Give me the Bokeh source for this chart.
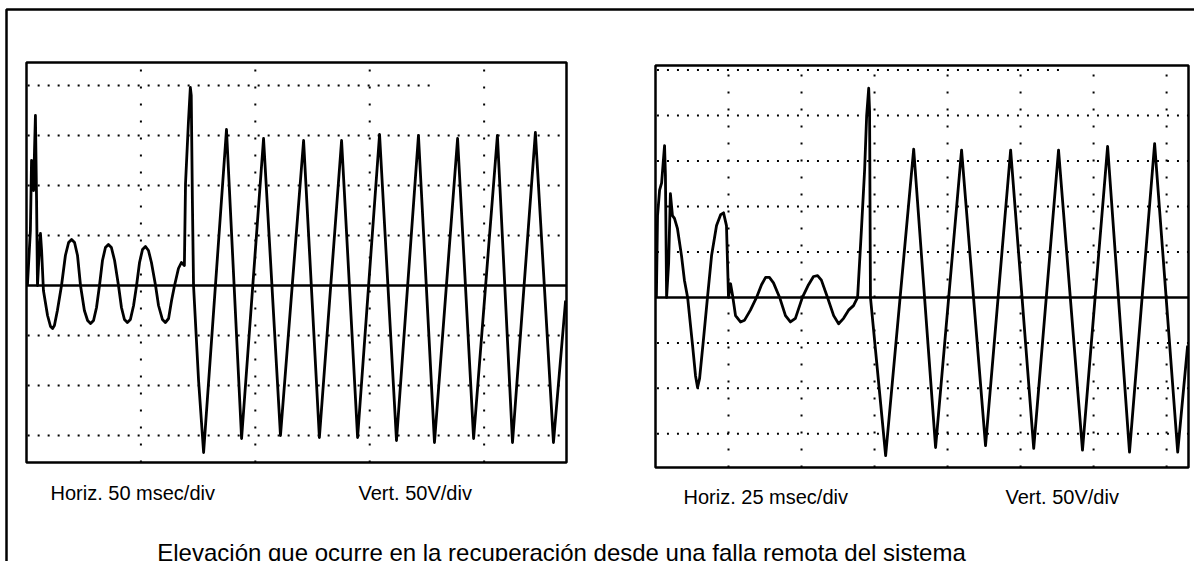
from bokeh.plotting import figure
from bokeh.models import Range1d, Label
from bokeh.embed import file_html
from bokeh.resources import INLINE

# ---------------- data ----------------
# Left oscillogram: Horiz. 50 msec/div, Vert. 50 V/div  (time in ms, voltage in V)
left_t = [0.4, 1.7, 2.2, 3.1, 3.5, 3.9, 4.4, 4.8, 5.7, 6.1, 6.6, 7.4, 9.2, 10.5, 11.4, 12.2,
          13.5, 15.3, 17.0, 18.4, 19.7, 21.0, 22.3, 23.6, 25.3, 26.7, 28.0, 29.3, 30.6, 31.9,
          33.2, 34.5, 35.8, 37.1, 38.5, 40.2, 41.5, 42.8, 44.1, 45.4, 46.8, 48.1, 49.4, 50.7,
          52.0, 53.3, 54.6, 56.4, 57.7, 59.4, 60.7, 62.1, 63.4, 64.7, 66.4, 67.7, 69.0, 69.5,
          70.8, 71.6, 72.0, 72.5, 73.0, 75.2, 77.4,
          87.4, 94.0, 103.6, 111.0, 121.1, 128.0, 137.7, 144.7, 154.3, 161.7, 171.3, 178.3,
          188.4, 195.4, 205.8, 212.4, 222.4, 230.3, 235.6]
left_v = [0, 55, 125, 95, 135, 170, 85, 0, 40, 52, 35, -5, -30, -41, -43, -40,
          -25, 0, 30, 43, 46, 43, 30, 0, -25, -35, -38, -35, -22, 0,
          25, 38, 41, 38, 25, 0, -22, -34, -37, -34, -20, 0, 23, 36,
          39, 35, 23, 0, -20, -34, -37, -33, -15, 0, 17, 23, 20, 102,
          165, 198, 190, 85, 0, -95, -167,
          156, -153, 147, -150, 145, -152, 145, -152, 151, -155, 150, -157,
          147, -153, 150, -157, 153, -157, -15]

# Right oscillogram: Horiz. 25 msec/div, Vert. 50 V/div
right_t = [0.3, 0.7, 1.4, 2.1, 2.7, 3.1, 3.4, 3.8, 4.5, 5.1, 5.8, 6.5, 7.5, 8.9, 9.9, 11.0,
           12.7, 13.7, 14.4, 15.1, 16.4, 17.8, 19.2, 20.9, 22.3, 23.3, 24.3, 25.0, 25.7, 26.4,
           27.4, 29.1, 30.5, 32.5, 34.6, 36.3, 37.7, 39.0, 40.4, 42.5, 44.5, 46.2, 47.9, 50.3,
           52.4, 54.1, 55.5, 56.8, 58.9, 61.0, 62.7, 64.4, 66.1, 67.8, 69.2, 70.5, 71.6, 72.3,
           73.0, 73.3, 73.6, 78.8,
           88.4, 95.9, 104.8, 113.0, 121.6, 129.5, 138.0, 146.2, 154.8, 162.3, 170.9, 178.8, 182.2]
right_v = [0, 90, 118, 126, 151, 167, 134, 0, 38, 114, 90, 87, 76, 46, 19, 0,
           -53, -86, -99, -89, -47, 0, 46, 79, 91, 93, 79, 0, 15, 2,
           -20, -27, -25, -14, 0, 14, 22, 22, 16, 0, -20, -27, -23, 0,
           14, 23, 24, 19, 0, -20, -29, -23, -14, -9, 0, 74, 140, 200,
           230, 205, 0, -174,
           163, -165, 162, -163, 162, -166, 162, -168, 166, -170, 169, -170, -53]

# graticule
left_volt_grid = [-150, -100, -50, 50, 100, 150, 200]
left_time_grid = [50, 100, 150, 200]
right_volt_grid = [-150, -100, -50, 50, 100, 150, 200, 250]
right_time_grid = [25, 50, 75, 100, 125, 150, 175]

labels_left = ["Horiz. 50 msec/div", "Vert. 50V/div"]
labels_right = ["Horiz. 25 msec/div", "Vert. 50V/div"]
caption = "Elevación que ocurre en la recuperación desde una falla remota del sistema"

# ---------------- page ----------------
p = figure(width=1194, height=561, output_backend="svg", toolbar_location=None,
           x_range=Range1d(0, 1194), y_range=Range1d(561, 0),
           x_axis_type=None, y_axis_type=None, min_border=0,
           outline_line_color=None, background_fill_color="white",
           border_fill_color="white")
p.xgrid.visible = False
p.ygrid.visible = False

# outer frame (top and left edges)
p.line([6, 6, 1194], [561, 9, 9], line_color="black", line_width=2.5)

FONT = "Liberation Sans"


def scope(xs, ys, xt, yt, t, v, vgrid, tgrid, top_extent):
    xy = p.subplot(x_source=Range1d(*xs), y_source=Range1d(*ys),
                   x_target=Range1d(*xt), y_target=Range1d(*yt))
    x0, x1 = xs
    y0, y1 = ys
    top = max(vgrid)
    hx0 = [x0 + 0.5 for _ in vgrid]
    hx1 = [top_extent if g == top else x1 for g in vgrid]
    xy.segment(x0=hx0, y0=vgrid, x1=hx1, y1=vgrid, line_color="black",
               line_width=2, line_dash="2 8")
    xy.segment(x0=tgrid, y0=[y0] * len(tgrid), x1=tgrid, y1=[y1] * len(tgrid),
               line_color="black", line_width=2, line_dash="2 15")
    xy.segment(x0=[x0], y0=[0], x1=[x1], y1=[0], line_color="black", line_width=2.5)
    xy.quad(left=[x0], right=[x1], bottom=[y0], top=[y1], fill_color=None,
            line_color="black", line_width=2.5)
    xy.line(t, v, line_color="black", line_width=2.8, line_join="round")


scope((0, 236), (-177, 223), (26, 566), (462, 62), left_t, left_v,
      left_volt_grid, left_time_grid, 177)
scope((0, 182.5), (-187, 255), (655, 1188), (467, 65), right_t, right_v,
      right_volt_grid, right_time_grid, 140)

for txt, x, y in [(labels_left[0], 50, 492), (labels_left[1], 358, 492),
                  (labels_right[0], 683, 496), (labels_right[1], 1005, 496)]:
    p.add_layout(Label(x=x, y=y, text=txt, text_font=FONT, text_font_size="20px",
                       text_baseline="alphabetic", text_align="left", text_color="black"))

p.add_layout(Label(x=561, y=552, text=caption, text_font=FONT, text_font_size="24px",
                   text_baseline="alphabetic", text_align="center", text_color="black"))

open("out.html", "w").write(file_html(p, INLINE))
